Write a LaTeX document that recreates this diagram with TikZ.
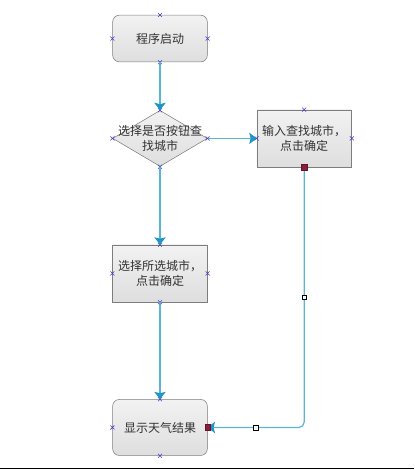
\documentclass[tikz,border=0pt]{standalone}
\usepackage{fontspec}
\newfontfamily\cjk{Noto Sans CJK SC}
\usetikzlibrary{arrows.meta,positioning,shapes.geometric,shapes.misc}
\definecolor{flowline}{RGB}{90,180,214}
\definecolor{arrowblue}{RGB}{30,150,200}
\definecolor{boxtop}{RGB}{242,242,242}
\definecolor{boxbottom}{RGB}{222,222,222}
\definecolor{boxedge}{RGB}{125,125,125}
\definecolor{textgray}{RGB}{50,50,50}
\definecolor{markblue}{RGB}{60,60,200}
\definecolor{endred}{RGB}{140,30,60}

\begin{document}
\begin{tikzpicture}[font=\cjk\fontsize{9}{11.25}\selectfont, semithick,
    flow/.style={draw=flowline,line width=0.9pt,-{Stealth[length=5.5pt,width=8.5pt,inset=1pt,color=arrowblue]}}]
        \tikzstyle{box}=[rectangle,draw=boxedge,thin,top color=boxtop,bottom color=boxbottom,text=textgray,minimum width=71pt,minimum height=42.75pt,inner sep=1pt,align=center]
        \tikzstyle{term}=[box,rounded corners=5pt]
        \tikzstyle{decision}=[diamond,draw=boxedge,thin,top color=boxtop,bottom color=boxbottom,minimum width=71pt,minimum height=42pt,inner sep=0pt]
        \tikzstyle{xmark}=[cross out,draw=markblue,thin,minimum size=2.6pt,inner sep=0pt]
        \tikzstyle{endmark}=[rectangle,draw=endred!70!black,fill=endred,thin,minimum size=4.2pt,inner sep=0pt]
        \tikzstyle{handle}=[rectangle,draw=black,fill=white,thin,arrows=-,sharp corners,minimum size=3.6pt,inner sep=0pt]

        \useasboundingbox (0,0) rectangle (310.5pt,-352.5pt);

        \node[term,minimum height=35pt]       (start)  at (120pt,-28.9pt) {程序启动};
        \node[decision,below=36pt of start,
              label={[align=center,text=textgray]center:选择是否按钮查\\找城市}] (choose) {};
        \node[box,right=36.75pt of choose]    (input)  {输入查找城市，\\点击确定};
        \node[box,below=58.5pt of choose]     (select) {选择所选城市，\\点击确定};
        \node[term,minimum height=42pt,below=72.75pt of select] (show) {显示天气结果};

        \foreach \n in {start,choose,input,select,show}
            \foreach \a in {north,south,east,west}
                \node[xmark] at (\n.\a) {};

        \path (start)  edge[flow] (choose)
              (choose) edge[flow] (input)
              (choose) edge[flow] (select)
              (select) edge[flow] (show);
        \draw[flow,rounded corners=4pt] (input.south) |- coordinate[pos=0.25] (bendA) coordinate[pos=0.75] (bendB) (show.east);

        \node[handle] at (bendA) {};
        \node[handle] at (bendB) {};
        \node[endmark] at (input.south) {};
        \node[endmark] at (show.east) {};

        \draw[line width=1.1pt] (0,-351.4pt) -- (310.5pt,-351.4pt);
\end{tikzpicture}
\end{document}
